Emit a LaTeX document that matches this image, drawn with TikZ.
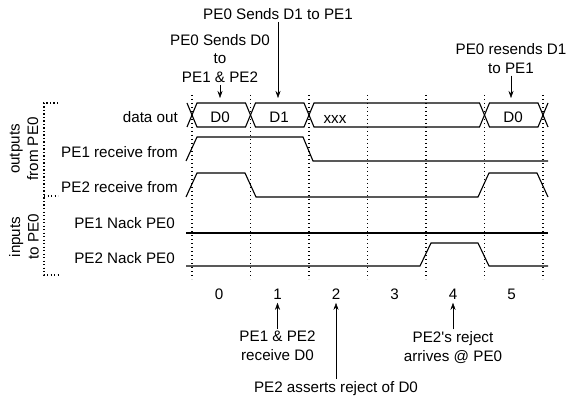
\documentclass[tikz,border=0pt]{standalone}
\usepackage{fontspec}
\setmainfont{Liberation Sans}
\usetikzlibrary{arrows.meta, positioning}

\begin{document}
\begin{tikzpicture}[x=1pt, y=-1pt, >={Stealth[length=7pt, width=5pt]},
  font=\fontsize{15.2}{18.5}\selectfont,
  wave/.style={line width=1.1pt},
  cycleline/.style={line width=1.2pt, dash pattern=on 1.2pt off 2.8pt},
  bracket/.style={line width=1.1pt, dash pattern=on 1.2pt off 2.3pt},
  note/.style={align=center, inner sep=2pt},
  rowlbl/.style={anchor=east, inner sep=0pt},
  grplbl/.style={rotate=90, align=center}]
  \useasboundingbox (0,0) rectangle (567,398);

  % Cycle boundaries (dotted)
  \foreach \x in {192,250.5,309,367.5,426,484.5,543}
    \draw[cycleline] (\x,95) -- (\x,279);

  % Group brackets
  \draw[bracket] (58,103) -- (44,103) -- (44,275) -- (58,275);
  \draw[bracket] (44,196) -- (58,196);
  \node[grplbl] (outgrp) at (24,149) {outputs\\from PE0};
  \node[grplbl] (ingrp) at (24,237) {inputs\\to PE0};

  % Row labels
  \node[rowlbl] (rowdata) at (178,117) {data out};
  \node[rowlbl] (rowpe1) at (178,152.5) {PE1 receive from};
  \node[rowlbl] (rowpe2) at (178,187.5) {PE2 receive from};
  \node[rowlbl] (rownack1) at (175,223) {PE1 Nack PE0};
  \node[rowlbl] (rownack2) at (175,258) {PE2 Nack PE0};

  % data out bus
  \draw[wave] (187,103) -- (192,115) -- (187,127);
  \foreach \a/\b in {192/250.5, 250.5/309, 309/484.5, 484.5/543}
    \draw[wave] (\a,115) -- (\a+5,103) -- (\b-5,103) -- (\b,115)
      -- (\b-5,127) -- (\a+5,127) -- cycle;
  \draw[wave] (548,103) -- (543,115) -- (548,127);
  \node (busD0) at (220,117.5) {D0};
  \node (busD1) at (279,117.5) {D1};
  \node (busX) at (335,119) {xxx};
  \node (busD0b) at (513,117.5) {D0};

  % PE1 / PE2 receive from
  \draw[wave] (186,161) -- (197,137) -- (303,137) -- (313,161) -- (548,161);
  \draw[wave] (186,197) -- (197,173) -- (245,173) -- (256,197) -- (478,197)
    -- (489,173) -- (537,173) -- (548,197);

  % Nack lines
  \draw[wave] (186,233) -- (548,233);
  \draw[wave] (186,266) -- (420,266) -- (431,243) -- (478,243) -- (489,266)
    -- (548,266);

  % Events above
  \node[note] (sendD0) at (220,58.5) {PE0 Sends D0\\to\\PE1 \& PE2};
  \coordinate (tipD0) at (220,98);
  \draw[->] (sendD0) -- (tipD0);
  \node[note] (sendD1) at (278,14) {PE0 Sends D1 to PE1};
  \coordinate (tipD1) at (278,98);
  \draw[->] (sendD1) -- (tipD1);
  \node[note] (resend) at (511,58.5) {PE0 resends D1\\to PE1};
  \coordinate (tipRe) at (511,98);
  \draw[->] (resend) -- (tipRe);

  % Cycle numbers
  \foreach \i in {0,...,5}
    \node (n\i) at (219+58.5*\i,294) {\i};

  % Events below
  \node[note] (rcvD0) at (277.5,346) {PE1 \& PE2\\receive D0};
  \draw[->] (rcvD0) -- (n1);
  \node[note] (assert) at (336,388.5) {PE2 asserts reject of D0};
  \draw[->] (assert) -- (n2);
  \node[note] (arrive) at (453,347.5) {PE2\textquotesingle s reject\\arrives @ PE0};
  \draw[->] (arrive) -- (n4);
\end{tikzpicture}
\end{document}
